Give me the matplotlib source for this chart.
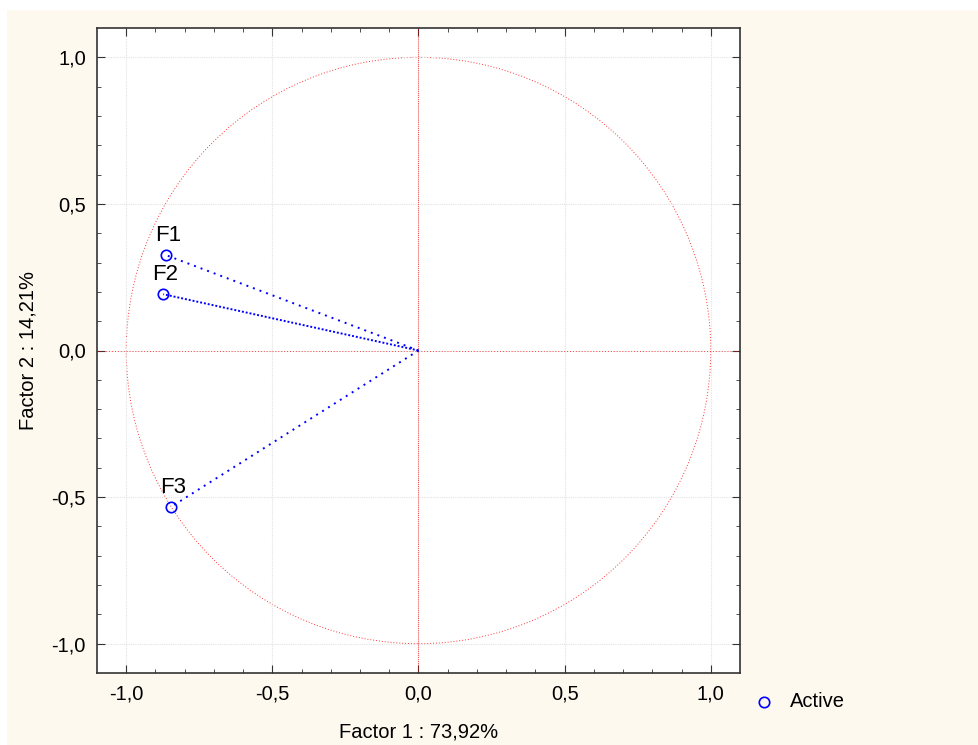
import numpy as np
import matplotlib.pyplot as plt
from matplotlib.patches import Rectangle, Circle

plt.rcParams['font.family'] = ['Liberation Sans', 'DejaVu Sans']

# factor loadings
names = ["F1", "F2", "F3"]
fac1 = [-0.863, -0.873, -0.846]
fac2 = [0.325, 0.192, -0.533]
ticks = [-1.0, -0.5, 0.0, 0.5, 1.0]
tick_labels = ["-1,0", "-0,5", "0,0", "0,5", "1,0"]

fig = plt.figure(figsize=(9.79, 7.45), dpi=100, facecolor="white")
fig.patches.append(Rectangle((7 / 979, 0), 1, 1 - 10 / 745, transform=fig.transFigure,
                             facecolor="#fdf9ef", edgecolor="none", zorder=-10))
ax = fig.add_axes([97 / 979, 1 - 673 / 745, (740 - 97) / 979, (673 - 28) / 745])
ax.set_facecolor("white")

# unit circle and the two axes through the origin
ax.add_patch(Circle((0, 0), 1, fill=False, edgecolor="red", linewidth=0.7,
                    linestyle=(0, (1, 2)), alpha=0.8))
ax.axvline(0, color="red", linewidth=0.7, linestyle=(0, (1, 1)), alpha=0.7)
ax.axhline(0, color="red", linewidth=0.7, linestyle=(0, (1, 2)), alpha=0.7)

styles = [(0, (1, 2.6)), (0, (1, 1)), (0, (1, 2.6))]
for xi, yi, ls in zip(fac1, fac2, styles):
    ax.plot([0, xi], [0, yi], color="blue", linewidth=1.4, linestyle=ls)
ax.plot(fac1, fac2, "o", markersize=7.5, markerfacecolor="none",
        markeredgecolor="blue", markeredgewidth=1.2, zorder=5)
for n, xi, yi in zip(names, fac1, fac2):
    ax.text(xi + 0.005, yi + 0.03, n, fontsize=16, ha="center", va="bottom")

ax.set_xlim(-1.1, 1.1)
ax.set_ylim(-1.1, 1.1)
ax.set_xticks(ticks)
ax.set_xticklabels(tick_labels)
ax.set_yticks(ticks)
ax.set_yticklabels(tick_labels)
ax.set_xticks(np.arange(-1.0, 1.05, 0.1), minor=True)
ax.set_yticks(np.arange(-1.0, 1.05, 0.1), minor=True)
ax.tick_params(which="both", direction="in", top=True, right=True, labelsize=14.5,
               color="#333333", pad=8)
ax.tick_params(which="major", length=6)
ax.tick_params(which="minor", length=3)
ax.grid(True, which="major", color="#e2e2e2", linestyle=(0, (1, 1)), linewidth=0.8)
for s in ax.spines.values():
    s.set_color("#333333")
    s.set_linewidth(1.2)

ax.set_xlabel("Factor 1 : 73,92%", fontsize=14.5, labelpad=14)
ax.set_ylabel("Factor 2 : 14,21%", fontsize=14.5, labelpad=10)

# legend placed outside the plot area
ax.plot([1.181], [-1.198], "o", markersize=7.5, markerfacecolor="none",
        markeredgecolor="blue", markeredgewidth=1.2, clip_on=False)
ax.text(1.27, -1.198, "Active", fontsize=14.5, va="center", ha="left", clip_on=False)

fig.savefig("out.png", dpi=100, facecolor=fig.get_facecolor())
